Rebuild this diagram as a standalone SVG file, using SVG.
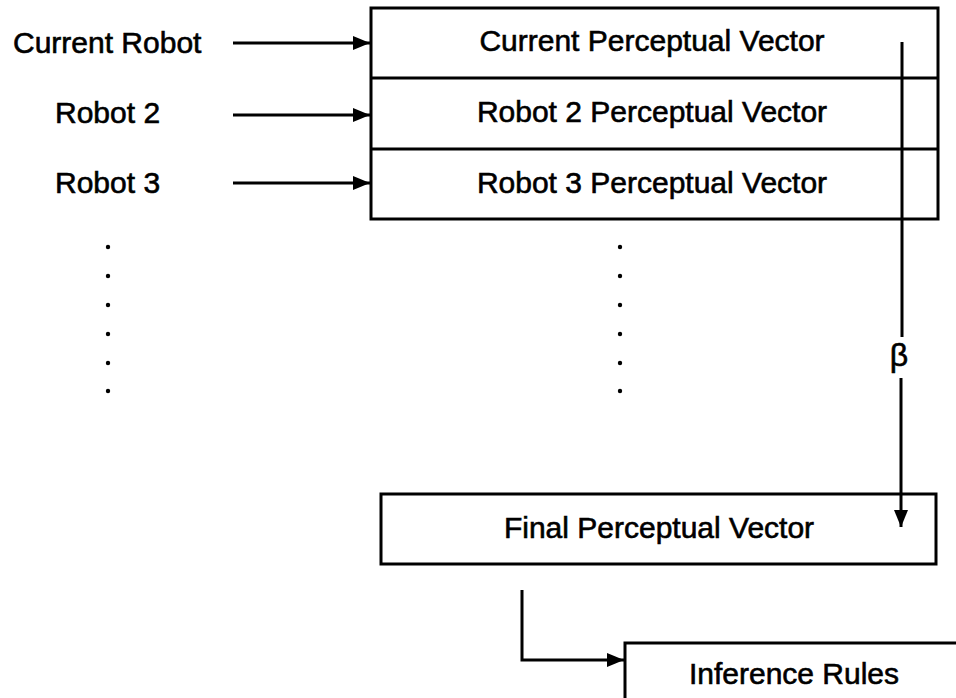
<svg xmlns="http://www.w3.org/2000/svg" width="956" height="698" viewBox="0 0 956 698">
<style>
text{font-family:"Liberation Sans",Arial,sans-serif;font-size:30px;fill:#000;stroke:#000;stroke-width:0.6}
.c{text-anchor:middle}
.box{fill:#fff;stroke:#000;stroke-width:3}
.ln{fill:none;stroke:#000;stroke-width:3}
</style>
<defs>
<marker id="ah" markerWidth="18" markerHeight="14" refX="17" refY="7" orient="auto" markerUnits="userSpaceOnUse">
<path d="M0,0 L17,7 L0,14 Z" fill="#000"/>
</marker>
</defs>
<rect width="956" height="698" fill="#fff"/>
<g id="labels">
<text x="13" y="53">Current Robot</text>
<text x="55" y="123">Robot 2</text>
<text x="55" y="193">Robot 3</text>
</g>
<g id="vectors">
<rect class="box" x="371" y="8" width="567" height="211"/>
<line class="ln" x1="371" y1="78" x2="938" y2="78" stroke-width="4"/>
<line class="ln" x1="371" y1="149" x2="938" y2="149" stroke-width="4"/>
<text class="c" x="652" y="51">Current Perceptual Vector</text>
<text class="c" x="652" y="122">Robot 2 Perceptual Vector</text>
<text class="c" x="652" y="193">Robot 3 Perceptual Vector</text>
</g>
<g id="final">
<rect class="box" x="381" y="494" width="555" height="70"/>
<text class="c" x="659" y="538">Final Perceptual Vector</text>
</g>
<g id="inference">
<rect class="box" x="625" y="643" width="360" height="100"/>
<text class="c" x="794" y="684">Inference Rules</text>
</g>
<g id="dots" fill="#000">
<circle cx="108" cy="247" r="2.2"/><circle cx="108" cy="276" r="2.2"/><circle cx="108" cy="305" r="2.2"/>
<circle cx="108" cy="334" r="2.2"/><circle cx="108" cy="363" r="2.2"/><circle cx="108" cy="391" r="2.2"/>
<circle cx="620" cy="247" r="2.2"/><circle cx="620" cy="276" r="2.2"/><circle cx="620" cy="305" r="2.2"/>
<circle cx="620" cy="334" r="2.2"/><circle cx="620" cy="363" r="2.2"/><circle cx="620" cy="391" r="2.2"/>
</g>
<g id="connectors">
<line class="ln" x1="233" y1="43" x2="370" y2="43" marker-end="url(#ah)"/>
<line class="ln" x1="233" y1="115" x2="370" y2="115" marker-end="url(#ah)"/>
<line class="ln" x1="233" y1="183" x2="370" y2="183" marker-end="url(#ah)"/>
<line class="ln" x1="902" y1="42" x2="902" y2="337"/>
<line class="ln" x1="901" y1="378" x2="901" y2="527" marker-end="url(#ah)"/>
<polyline class="ln" points="522,590 522,660 624,660" marker-end="url(#ah)"/>
<text class="c" x="899" y="366" style="font-size:32px">β</text>
</g>
</svg>
